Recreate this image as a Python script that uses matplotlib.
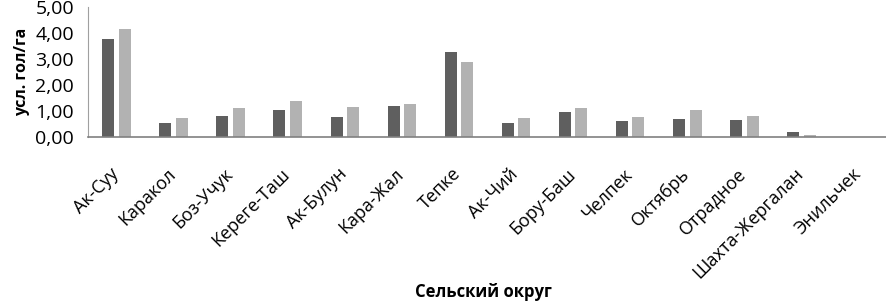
import matplotlib
matplotlib.use("Agg")
import matplotlib.pyplot as plt
import matplotlib.transforms as mtransforms
import numpy as np

plt.rcParams['font.family'] = ['Open Sans', 'DejaVu Sans']

categories = ["Ак-Суу", "Каракол", "Боз-Учук", "Кереге-Таш", "Ак-Булун", "Кара-Жал",
              "Тепке", "Ак-Чий", "Бору-Баш", "Челпек", "Октябрь", "Отрадное",
              "Шахта-Жергалан", "Энильчек"]
series1 = [3.78, 0.55, 0.80, 1.05, 0.76, 1.18, 3.26, 0.53, 0.95, 0.60, 0.71, 0.67, 0.18, 0.0]
series2 = [4.14, 0.73, 1.13, 1.37, 1.15, 1.26, 2.87, 0.73, 1.13, 0.76, 1.03, 0.81, 0.10, 0.0]
yticks = [0, 1, 2, 3, 4, 5]
ytick_labels = ["0,00", "1,00", "2,00", "3,00", "4,00", "5,00"]

fig = plt.figure(figsize=(8.87, 3.04), dpi=100)
ax = fig.add_axes([0.0992, 0.549, 0.9008, 0.428])

x = np.arange(len(categories))
w = 0.21
off = 0.145
ax.bar(x - off, series1, width=w, color="#5f5f5f")
ax.bar(x + off, series2, width=w, color="#b2b2b2")

ax.set_xlim(-0.5, len(categories) - 0.5)
ax.set_ylim(0, 5)
ax.set_yticks(yticks)
ax.set_yticklabels(ytick_labels, fontsize=14)
ax.set_xticks(x)
ax.set_xticklabels(categories, rotation=45, ha="right", rotation_mode="anchor", fontsize=13)
ax.tick_params(axis="both", length=0)
ax.tick_params(axis="y", pad=10)
ax.tick_params(axis="x", pad=20)
shift = mtransforms.ScaledTranslation(-5 / 72, 0, fig.dpi_scale_trans)
for lab in ax.get_xticklabels():
    lab.set_transform(lab.get_transform() + shift)

for s in ["top", "right"]:
    ax.spines[s].set_visible(False)
ax.spines["left"].set_color("#a0a0a0")
ax.spines["bottom"].set_color("#808080")
ax.spines["bottom"].set_linewidth(1.2)

ax.set_ylabel("усл. гол/га", fontsize=11.5, fontweight="bold", labelpad=4)
fig.text(0.545, 0.04, "Сельский округ", fontsize=12, fontweight="bold", ha="center", va="center")

fig.savefig("out.png", dpi=100)
